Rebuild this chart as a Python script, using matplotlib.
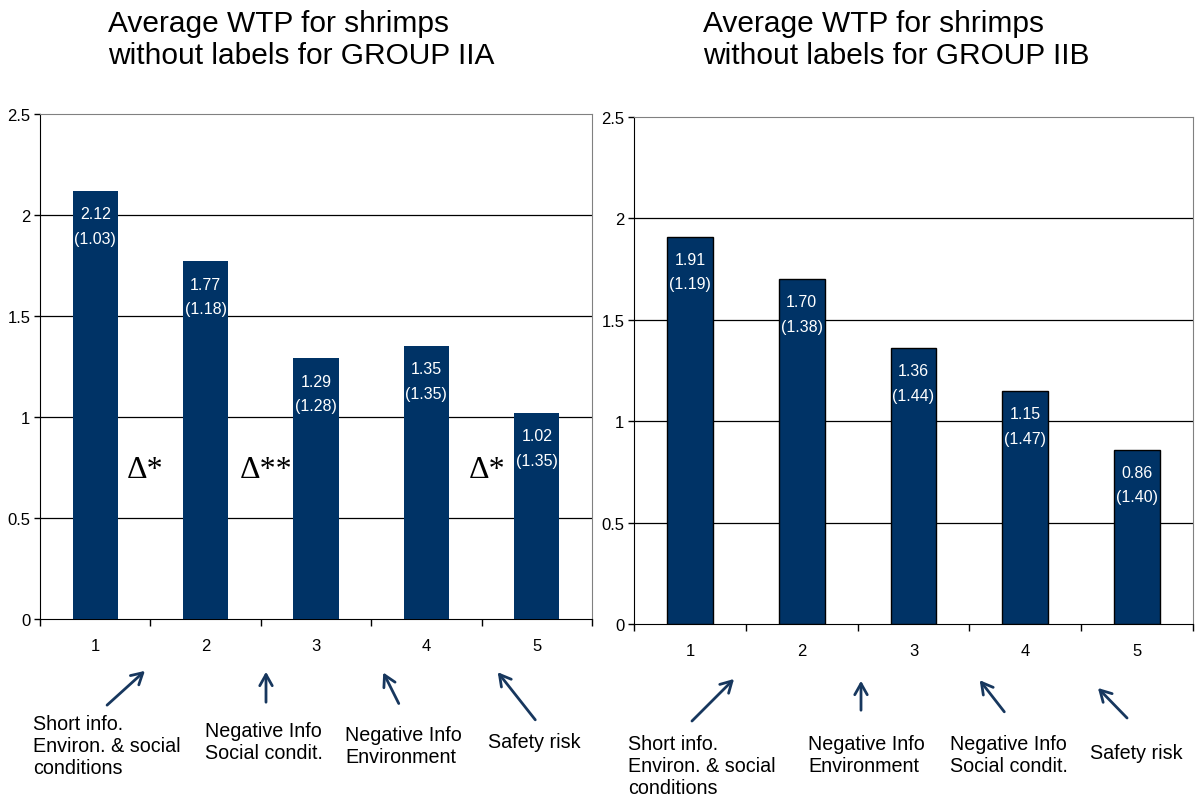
import matplotlib.pyplot as plt
import numpy as np

# datos
categorias = [1, 2, 3, 4, 5]
wtp_a = [2.12, 1.77, 1.29, 1.35, 1.02]
sd_a = [1.03, 1.18, 1.28, 1.35, 1.35]
wtp_b = [1.91, 1.70, 1.36, 1.15, 0.86]
sd_b = [1.19, 1.38, 1.44, 1.47, 1.40]
yticks = [0, 0.5, 1, 1.5, 2, 2.5]
titulo_a = "Average WTP for shrimps\nwithout labels for GROUP IIA"
titulo_b = "Average WTP for shrimps\nwithout labels for GROUP IIB"
notas_a = ["Short info.\nEnviron. & social\nconditions", "Negative Info\nSocial condit.",
           "Negative Info\nEnvironment", "Safety risk"]
notas_b = ["Short info.\nEnviron. & social\nconditions", "Negative Info\nEnvironment",
           "Negative Info\nSocial condit.", "Safety risk"]
deltas = [(1.45, "Δ*"), (2.55, "Δ**"), (4.55, "Δ*")]

W, H = 1195, 803
azul = "#003366"
flecha = "#17375E"
plt.rcParams["font.family"] = ["Liberation Sans", "DejaVu Sans"]

fig = plt.figure(figsize=(W / 100, H / 100), dpi=100)


def fx(px):
    return px / W


def fy(py):
    return 1 - py / H


def hacer_panel(rect, valores, sds, edge):
    ax = fig.add_axes(rect)
    ax.bar(categorias, valores, width=0.41, color=azul,
           edgecolor="black" if edge else azul, linewidth=1 if edge else 0, zorder=3)
    for x, v, s in zip(categorias, valores, sds):
        ax.text(x, v - 0.075, f"{v:.2f}\n({s:.2f})", color="white", ha="center", va="top",
                fontsize=11.5, linespacing=1.8, zorder=4)
    ax.set_xlim(0.5, 5.5)
    ax.set_ylim(0, 2.5)
    ax.set_yticks(yticks)
    ax.set_yticklabels([f"{t:g}" for t in yticks], fontsize=12)
    ax.set_xticks(np.arange(0.5, 6, 1))
    ax.set_xticklabels([])
    ax.set_xticks(categorias, minor=True)
    ax.set_xticklabels([str(c) for c in categorias], minor=True, fontsize=12)
    ax.tick_params(axis="x", which="major", direction="out", length=5, width=1)
    ax.tick_params(axis="x", which="minor", length=0, pad=14)
    ax.tick_params(axis="y", direction="out", length=4, width=1, pad=3)
    for y in yticks[1:-1]:
        ax.axhline(y, color="black", lw=0.9, zorder=1)
    ax.spines["top"].set_color("#808080")
    ax.spines["right"].set_color("#808080")
    return ax


ax1 = hacer_panel([fx(40), fy(620), fx(552), (620 - 115) / H], wtp_a, sd_a, False)
ax2 = hacer_panel([fx(634), fy(625), fx(559), (625 - 118) / H], wtp_b, sd_b, True)

for x, t in deltas:
    ax1.text(x, 0.74, t, ha="center", va="center", fontsize=23,
             family=["Liberation Serif", "DejaVu Serif"])

fig.text(fx(108), fy(10), titulo_a, ha="left", va="top", fontsize=21.5, linespacing=1.2)
fig.text(fx(703), fy(10), titulo_b, ha="left", va="top", fontsize=21.5, linespacing=1.2)

# flechas (pixeles: cola -> punta)
flechas_a = [((105, 708), (147, 670)), ((266, 706), (266, 670)),
             ((400, 707), (382, 671)), ((537, 723), (496, 671))]
flechas_b = [((690, 724), (736, 678)), ((861, 714), (861, 679)),
             ((1006, 715), (978, 679)), ((1129, 721), (1096, 687))]
for cola, punta in flechas_a + flechas_b:
    fig.add_artist(plt.matplotlib.patches.FancyArrowPatch(
        (fx(cola[0]), fy(cola[1])), (fx(punta[0]), fy(punta[1])), transform=fig.transFigure,
        arrowstyle="->,head_length=8,head_width=4.5", color=flecha, lw=2, mutation_scale=1))

pos_a = [(33, 715), (205, 722), (345, 726), (488, 733)]
pos_b = [(628, 735), (808, 735), (950, 735), (1090, 744)]
for (px, py), t in zip(pos_a + pos_b, notas_a + notas_b):
    fig.text(fx(px), fy(py), t, ha="left", va="top", fontsize=14.2, linespacing=1.2)

fig.savefig("out.png", dpi=100)
